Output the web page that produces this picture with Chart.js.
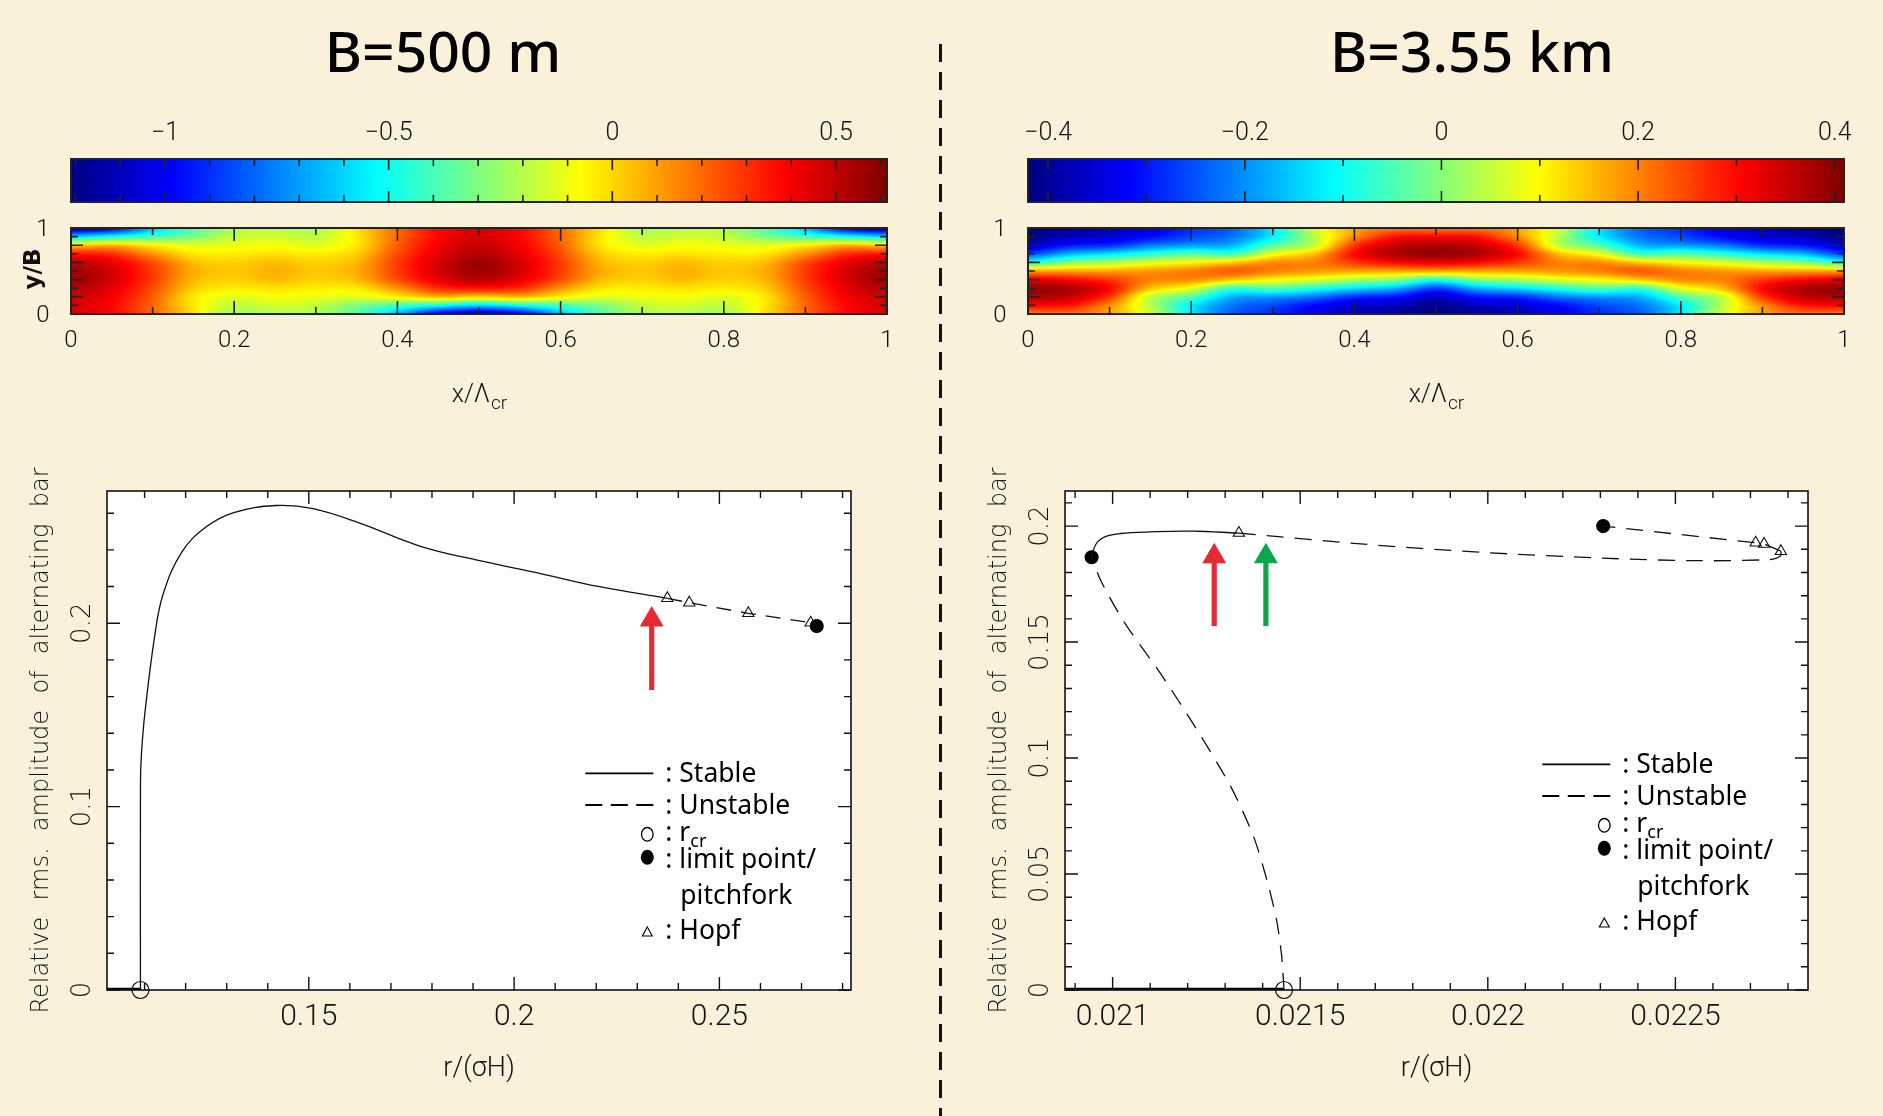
<!DOCTYPE html>
<html lang="en">
<head>
<meta charset="UTF-8">
<title>Alternating bars: B=500 m and B=3.55 km</title>
<script src="https://cdn.jsdelivr.net/npm/chart.js"></script>
<style>
  html, body { margin: 0; padding: 0; }
  body { width: 1883px; height: 1116px; background: #FAF1DB; position: relative; overflow: hidden; }
  canvas.layer { position: absolute; left: 0; top: 0; }
  .title { position: absolute; top: 22px; font: 500 57px/57px 'Noto Sans', 'Open Sans', sans-serif;
           color: #000; white-space: nowrap; transform: translateX(-50%); }
  .divider { position: absolute; left: 939px; top: 44px; width: 2.5px; height: 1072px;
             background: repeating-linear-gradient(to bottom, #111 0 18px, transparent 18px 28px); }
</style>
</head>
<body>
<div class="title" style="left:443px">B=500 m</div>
<div class="title" style="left:1472px">B=3.55 km</div>
<div class="divider"></div>
<canvas class="layer" id="cbLeft" width="1883" height="1116"></canvas>
<canvas class="layer" id="fieldLeftCv" width="1883" height="1116"></canvas>
<canvas class="layer" id="bifLeft" width="1883" height="1116"></canvas>
<canvas class="layer" id="cbRight" width="1883" height="1116"></canvas>
<canvas class="layer" id="fieldRightCv" width="1883" height="1116"></canvas>
<canvas class="layer" id="bifRight" width="1883" height="1116"></canvas>
<script>
const W = 1883, H = 1116;

// ---- colour bars ----
const cbLeftRange = [-1.21, 0.614];
const cbLeftTicks = [-1, -0.5, 0, 0.5];
const cbRightRange = [-0.4205, 0.4094];
const cbRightTicks = [-0.4, -0.2, 0, 0.2, 0.4];

// ---- bar patterns (rows: y/B = 1 at top ... 0 at bottom) ----
const fieldX = [0, 0.05, 0.1, 0.15, 0.2, 0.25, 0.3, 0.35, 0.4, 0.45, 0.5, 0.55, 0.6, 0.65, 0.7, 0.75, 0.8, 0.85, 0.9, 0.95, 1];
const fieldY = [1, 0.9, 0.8, 0.7, 0.6, 0.5, 0.4, 0.3, 0.2, 0.1, 0];
const fieldLeft = [
  [-1.10,-1.00,-0.65,-0.38,-0.22,-0.20,-0.22,-0.02,0.20,0.38,0.45,0.38,0.20,-0.02,-0.22,-0.20,-0.22,-0.38,-0.65,-1.00,-1.10],
  [-0.60,-0.50,-0.40,-0.30,-0.18,-0.15,-0.18,-0.03,0.20,0.38,0.46,0.38,0.20,-0.03,-0.18,-0.15,-0.18,-0.30,-0.40,-0.50,-0.60],
  [0.00,0.05,-0.05,-0.12,-0.10,-0.08,-0.12,-0.03,0.22,0.40,0.48,0.40,0.22,-0.03,-0.12,-0.08,-0.10,-0.12,-0.05,0.05,0.00],
  [0.35,0.30,0.12,-0.03,-0.04,-0.02,-0.04,0.02,0.25,0.43,0.52,0.43,0.25,0.02,-0.04,-0.02,-0.04,-0.03,0.12,0.30,0.35],
  [0.50,0.42,0.25,0.05,0.01,0.05,0.01,0.06,0.28,0.46,0.56,0.46,0.28,0.06,0.01,0.05,0.01,0.05,0.25,0.42,0.50],
  [0.56,0.46,0.28,0.08,0.03,0.07,0.03,0.08,0.28,0.46,0.56,0.46,0.28,0.08,0.03,0.07,0.03,0.08,0.28,0.46,0.56],
  [0.56,0.46,0.28,0.06,0.01,0.05,0.01,0.05,0.25,0.42,0.50,0.42,0.25,0.05,0.01,0.05,0.01,0.06,0.28,0.46,0.56],
  [0.52,0.43,0.25,0.02,-0.04,-0.02,-0.04,-0.03,0.12,0.30,0.35,0.30,0.12,-0.03,-0.04,-0.02,-0.04,0.02,0.25,0.43,0.52],
  [0.48,0.40,0.22,-0.03,-0.12,-0.08,-0.10,-0.12,-0.05,0.05,0.00,0.05,-0.05,-0.12,-0.10,-0.08,-0.12,-0.03,0.22,0.40,0.48],
  [0.46,0.38,0.20,-0.03,-0.18,-0.15,-0.18,-0.30,-0.40,-0.50,-0.60,-0.50,-0.40,-0.30,-0.18,-0.15,-0.18,-0.03,0.20,0.38,0.46],
  [0.45,0.38,0.20,-0.02,-0.22,-0.20,-0.22,-0.38,-0.65,-1.00,-1.10,-1.00,-0.65,-0.38,-0.22,-0.20,-0.22,-0.02,0.20,0.38,0.45]
];
const fieldRight = [
  [-0.42,-0.40,-0.37,-0.33,-0.28,-0.24,-0.12,0.06,0.17,0.21,0.21,0.21,0.17,0.06,-0.12,-0.24,-0.28,-0.33,-0.37,-0.40,-0.42],
  [-0.41,-0.37,-0.35,-0.31,-0.26,-0.22,-0.12,0.04,0.19,0.29,0.30,0.29,0.19,0.04,-0.12,-0.22,-0.26,-0.31,-0.35,-0.37,-0.41],
  [-0.36,-0.30,-0.28,-0.22,-0.19,-0.17,-0.04,0.05,0.26,0.35,0.37,0.35,0.26,0.05,-0.04,-0.17,-0.19,-0.22,-0.28,-0.30,-0.36],
  [-0.26,-0.17,-0.13,-0.08,-0.04,-0.06,0.08,0.15,0.30,0.37,0.39,0.37,0.30,0.15,0.08,-0.06,-0.04,-0.08,-0.13,-0.17,-0.26],
  [-0.08,0.00,0.03,0.07,0.10,0.14,0.19,0.20,0.26,0.30,0.32,0.30,0.26,0.20,0.19,0.14,0.10,0.07,0.03,0.00,-0.08],
  [0.17,0.17,0.17,0.18,0.20,0.23,0.20,0.18,0.17,0.17,0.17,0.17,0.17,0.18,0.20,0.23,0.20,0.18,0.17,0.17,0.17],
  [0.32,0.30,0.26,0.20,0.19,0.14,0.10,0.07,0.03,0.00,-0.08,0.00,0.03,0.07,0.10,0.14,0.19,0.20,0.26,0.30,0.32],
  [0.39,0.37,0.30,0.15,0.08,-0.06,-0.04,-0.08,-0.13,-0.17,-0.26,-0.17,-0.13,-0.08,-0.04,-0.06,0.08,0.15,0.30,0.37,0.39],
  [0.37,0.35,0.26,0.05,-0.04,-0.17,-0.19,-0.22,-0.28,-0.30,-0.36,-0.30,-0.28,-0.22,-0.19,-0.17,-0.04,0.05,0.26,0.35,0.37],
  [0.30,0.29,0.19,0.04,-0.12,-0.22,-0.26,-0.31,-0.35,-0.37,-0.41,-0.37,-0.35,-0.31,-0.26,-0.22,-0.12,0.04,0.19,0.29,0.30],
  [0.21,0.21,0.17,0.06,-0.12,-0.24,-0.28,-0.33,-0.37,-0.40,-0.42,-0.40,-0.37,-0.33,-0.28,-0.24,-0.12,0.06,0.17,0.21,0.21]
];
const fieldXTicks = [0, 0.2, 0.4, 0.6, 0.8, 1];
const fieldYTicks = [0, 1];

// ---- bifurcation diagram, B = 500 m ----
const leftRange = { x: [0.10085, 0.28205], y: [0, 0.2721] };
const leftTrivialX = [0.10085, 0.1090];
const leftTrivialY = [0, 0];
const leftStableX = [0.1090, 0.1090, 0.10925, 0.11012, 0.11246, 0.11451, 0.11903, 0.12487, 0.13173, 0.14196, 0.15072, 0.1624, 0.1770, 0.1916, 0.2062, 0.2208, 0.23731];
const leftStableY = [0, 0.1132, 0.1291, 0.1519, 0.1930, 0.2158, 0.2386, 0.2523, 0.2603, 0.2642, 0.2626, 0.2546, 0.2421, 0.2341, 0.2272, 0.2199, 0.21358];
const leftUnstableX = [0.23731, 0.24267, 0.25704, 0.27223, 0.2737];
const leftUnstableY = [0.21358, 0.21118, 0.2054, 0.20027, 0.19847];
const leftHopfX = [0.23731, 0.24267, 0.25704, 0.27223];
const leftHopfY = [0.21358, 0.21118, 0.2054, 0.20027];
const leftRcrX = [0.1090], leftRcrY = [0];
const leftLimitX = [0.2737], leftLimitY = [0.19847];
const leftArrowX = [0.23351], leftArrowTail = [0.16358], leftArrowTip = [0.20938];
const leftArrowColor = ['#E42A33'];
const leftXTicks = [0.15, 0.2, 0.25];
const leftYTicks = [0, 0.1, 0.2];

// ---- bifurcation diagram, B = 3.55 km ----
const rightRange = { x: [0.0208731, 0.0228534], y: [0, 0.21513] };
const rightTrivialX = [0.0208731, 0.0214568];
const rightTrivialY = [0, 0];
const rightLowerX = [0.0214568, 0.0214536, 0.0214501, 0.0214373, 0.0214133, 0.0213760, 0.0213150, 0.0212220, 0.0211280, 0.0210330, 0.0209700, 0.020944];
const rightLowerY = [0, 0.0083, 0.0155, 0.02994, 0.04618, 0.06602, 0.08767, 0.11292, 0.13637, 0.15802, 0.17600, 0.1866];
const rightStableX = [0.020944, 0.0209486, 0.0209598, 0.0209807, 0.0210207, 0.0211009, 0.0212131, 0.0213366];
const rightStableY = [0.1866, 0.1896, 0.1932, 0.1955, 0.1968, 0.1975, 0.1978, 0.1970];
const rightUpperX = [0.0213366, 0.0216618, 0.0219824, 0.022303, 0.0225434, 0.0227516, 0.0227806, 0.0227811];
const rightUpperY = [0.1970, 0.1923, 0.1887, 0.1862, 0.1851, 0.1856, 0.1872, 0.18918];
const rightReturnX = [0.0227811, 0.0227364, 0.022714, 0.0223075];
const rightReturnY = [0.18918, 0.1923, 0.1928, 0.2000];
const rightHopfX = [0.0213366, 0.022714, 0.0227364, 0.0227811];
const rightHopfY = [0.1970, 0.1928, 0.1923, 0.18918];
const rightRcrX = [0.0214568], rightRcrY = [0];
const rightLimitX = [0.020944, 0.0223075], rightLimitY = [0.1866, 0.2000];
const rightArrowX = [0.0212708, 0.0214085], rightArrowTail = [0.1569, 0.1569], rightArrowTip = [0.1928, 0.1928];
const rightArrowColor = ['#E42A33', '#0DA64A'];
const rightXTicks = [0.021, 0.0215, 0.022, 0.0225];
const rightYTicks = [0, 0.05, 0.1, 0.15, 0.2];

const yTitleWords = ['Relative', 'rms.', 'amplitude', 'of', 'alternating', 'bar'];

// ---- fonts ----
const NUM_FONT = "'Roboto', 'Liberation Sans', sans-serif";
const ROUND_FONT = "'DejaVu Sans', sans-serif";
const LEGEND_FONT = "'Noto Sans', 'Open Sans', sans-serif";

// ---------- helpers ----------
const pts = (xs, ys) => xs.map((v, i) => ({ x: v, y: ys[i] }));
const fmt = v => String(v).replace('-', '\u2212');

function jet(t) {
  t = Math.min(1, Math.max(0, t));
  const f = v => Math.round(255 * Math.min(1, Math.max(0, v)));
  return [f(1.5 - Math.abs(4 * t - 3)), f(1.5 - Math.abs(4 * t - 2)), f(1.5 - Math.abs(4 * t - 1))];
}

function cr(p0, p1, p2, p3, t) {
  return p1 + 0.5 * t * (p2 - p0 + t * (2 * p0 - 5 * p1 + 4 * p2 - p3 + t * (3 * (p1 - p2) + p3 - p0)));
}

// smooth (Catmull-Rom) reading of the gridded field
function sampleField(grid, xv, yv) {
  const nx = fieldX.length, ny = fieldY.length;
  const fx = Math.min(nx - 1, Math.max(0, (xv - fieldX[0]) / (fieldX[1] - fieldX[0])));
  const fy = Math.min(ny - 1, Math.max(0, (yv - fieldY[0]) / (fieldY[1] - fieldY[0])));
  const i = Math.min(nx - 2, Math.floor(fx)), j = Math.min(ny - 2, Math.floor(fy));
  const tx = fx - i, ty = fy - j;
  const rowAt = r => {
    const row = grid[Math.min(ny - 1, Math.max(0, r))];
    const c = k => row[Math.min(nx - 1, Math.max(0, k))];
    return cr(c(i - 1), c(i), c(i + 1), c(i + 2), tx);
  };
  return cr(rowAt(j - 1), rowAt(j), rowAt(j + 1), rowAt(j + 2), ty);
}

function eachTick(scale, step, every, fn) {
  const k0 = Math.ceil(scale.min / step - 1e-6), k1 = Math.floor(scale.max / step + 1e-6);
  for (let k = k0; k <= k1; k++) fn(k * step, k % every === 0);
}

// inward ticks on every side, plus the frame
function ticksFrame(o) {
  return {
    id: 'ticksFrame',
    afterDatasetsDraw(chart) {
      const { ctx, chartArea: a, scales: { x, y } } = chart;
      ctx.save();
      ctx.strokeStyle = o.color; ctx.lineWidth = o.tickWidth;
      ctx.beginPath();
      if (o.x) eachTick(x, o.x.step, o.x.every, (v, major) => {
        const p = x.getPixelForValue(v), L = major ? o.x.major : o.x.minor;
        ctx.moveTo(p, a.bottom); ctx.lineTo(p, a.bottom - L);
        ctx.moveTo(p, a.top); ctx.lineTo(p, a.top + L);
      });
      if (o.y) eachTick(y, o.y.step, o.y.every, (v, major) => {
        const p = y.getPixelForValue(v), L = major ? o.y.major : o.y.minor;
        ctx.moveTo(a.left, p); ctx.lineTo(a.left + L, p);
        ctx.moveTo(a.right, p); ctx.lineTo(a.right - L, p);
      });
      ctx.stroke();
      ctx.lineWidth = o.frameWidth;
      ctx.strokeRect(a.left, a.top, a.width, a.height);
      ctx.restore();
    }
  };
}

function textLayer(draw) {
  return {
    id: 'textLayer',
    afterDraw(chart) {
      const { ctx, chartArea, scales } = chart;
      ctx.save();
      ctx.fillStyle = '#111';
      draw(ctx, chartArea, scales.x, scales.y);
      ctx.restore();
    }
  };
}

function whiteArea() {
  return {
    id: 'whiteArea',
    beforeDraw(chart) {
      const { ctx, chartArea: a } = chart;
      ctx.save(); ctx.fillStyle = '#FFFFFF'; ctx.fillRect(a.left, a.top, a.width, a.height); ctx.restore();
    }
  };
}

function colourBar(vmin, vmax) {
  return {
    id: 'colourBar',
    beforeDatasetsDraw(chart) {
      const { ctx, chartArea: a, scales: { x } } = chart;
      for (let px = Math.floor(a.left); px < a.right; px++) {
        const c = jet((x.getValueForPixel(px + 0.5) - vmin) / (vmax - vmin));
        ctx.fillStyle = `rgb(${c})`;
        ctx.fillRect(px, a.top, 1, a.height);
      }
    }
  };
}

function fieldLayer(grid, vmin, vmax) {
  return {
    id: 'fieldLayer',
    beforeDatasetsDraw(chart) {
      const { ctx, chartArea: a, scales: { x, y } } = chart;
      const w = Math.round(a.width), h = Math.round(a.height);
      const img = ctx.createImageData(w, h);
      for (let j = 0; j < h; j++) {
        const yv = y.getValueForPixel(a.top + j + 0.5);
        for (let i = 0; i < w; i++) {
          const xv = x.getValueForPixel(a.left + i + 0.5);
          const c = jet((sampleField(grid, xv, yv) - vmin) / (vmax - vmin));
          const k = 4 * (j * w + i);
          img.data[k] = c[0]; img.data[k + 1] = c[1]; img.data[k + 2] = c[2]; img.data[k + 3] = 255;
        }
      }
      ctx.putImageData(img, Math.round(a.left), Math.round(a.top));
    }
  };
}

function arrowLayer(xs, tails, tips, colours) {
  return {
    id: 'arrowLayer',
    beforeDatasetsDraw(chart) {
      const { ctx, scales: { x, y } } = chart;
      ctx.save();
      xs.forEach((xv, i) => {
        const px = x.getPixelForValue(xv), pt = y.getPixelForValue(tails[i]), ph = y.getPixelForValue(tips[i]);
        const headLen = 20.5, headHalf = 12, shaft = 2.6;
        ctx.fillStyle = colours[i];
        ctx.fillRect(px - shaft, ph + headLen - 1, 2 * shaft, pt - ph - headLen + 1);
        ctx.beginPath();
        ctx.moveTo(px, ph); ctx.lineTo(px + headHalf, ph + headLen); ctx.lineTo(px - headHalf, ph + headLen);
        ctx.closePath(); ctx.fill();
      });
      ctx.restore();
    }
  };
}

function legendBox(shift) {
  return {
    id: 'legendBox',
    afterDatasetsDraw(chart) {
      const { ctx, chartArea: a } = chart;
      const R = a.right, T = a.top + shift;
      const xs = R - 265.7, xe = R - 197.7, xm = R - 203.7, xt = R - 185.7;
      ctx.save();
      ctx.strokeStyle = '#000'; ctx.fillStyle = '#000';
      ctx.lineWidth = 1.8;
      ctx.beginPath(); ctx.moveTo(xs, T + 282.3); ctx.lineTo(xe, T + 282.3); ctx.stroke();
      ctx.setLineDash([17, 8.5]);
      ctx.beginPath(); ctx.moveTo(xs, T + 314); ctx.lineTo(xe, T + 314); ctx.stroke();
      ctx.setLineDash([]);
      ctx.lineWidth = 1.3;
      ctx.beginPath(); ctx.ellipse(xm, T + 343.3, 5.8, 6.8, 0, 0, 2 * Math.PI); ctx.stroke();
      ctx.beginPath(); ctx.ellipse(xm, T + 366.3, 6.5, 7.5, 0, 0, 2 * Math.PI); ctx.fill();
      ctx.lineWidth = 1.1;
      ctx.beginPath();
      ctx.moveTo(xm, T + 436); ctx.lineTo(xm + 5, T + 445); ctx.lineTo(xm - 5, T + 445); ctx.closePath(); ctx.stroke();
      ctx.font = `26.5px ${LEGEND_FONT}`;
      ctx.textAlign = 'left'; ctx.textBaseline = 'alphabetic';
      ctx.fillText(': Stable', xt, T + 290.5);
      ctx.fillText(': Unstable', xt, T + 323);
      ctx.fillText(': r', xt, T + 349.5);
      const rw = ctx.measureText(': r').width;
      ctx.fillText(': limit point/', xt, T + 376.5);
      ctx.fillText('pitchfork', R - 170.7, T + 413);
      ctx.fillText(': Hopf', xt, T + 448);
      ctx.font = `18px ${LEGEND_FONT}`;
      ctx.fillText('cr', xt + rw, T + 356);
      ctx.restore();
    }
  };
}

function spreadWords(ctx, words, cx, cy, span, font) {
  ctx.save();
  ctx.font = font; ctx.translate(cx, cy); ctx.rotate(-Math.PI / 2);
  const widths = words.map(w => ctx.measureText(w).width);
  const total = widths.reduce((s, w) => s + w, 0);
  const gap = (span - total) / (words.length - 1);
  let pos = -span / 2;
  ctx.textAlign = 'left'; ctx.textBaseline = 'alphabetic';
  words.forEach((w, i) => { ctx.fillText(w, pos, 0); pos += widths[i] + gap; });
  ctx.restore();
}

function rotatedText(ctx, s, px, py, font) {
  ctx.save();
  ctx.font = font; ctx.translate(px, py); ctx.rotate(-Math.PI / 2);
  ctx.textAlign = 'center'; ctx.textBaseline = 'alphabetic';
  ctx.fillText(s, 0, 0);
  ctx.restore();
}

function makeChart(id, area, xr, yr, datasets, plugins) {
  return new Chart(document.getElementById(id), {
    type: 'scatter',
    data: { datasets },
    options: {
      responsive: false, animation: false, events: [],
      layout: { padding: { left: area[0], top: area[1], right: W - area[2], bottom: H - area[3] } },
      scales: {
        x: { type: 'linear', display: false, min: xr[0], max: xr[1] },
        y: { type: 'linear', display: false, min: yr[0], max: yr[1] }
      },
      plugins: { legend: { display: false }, tooltip: { enabled: false } }
    },
    plugins
  });
}

// ---------- colour bars ----------
function colourBarChart(id, area, range, labels) {
  makeChart(id, area, range, [0, 1], [], [
    colourBar(range[0], range[1]),
    ticksFrame({ color: '#222', tickWidth: 1.6, frameWidth: 2,
                 x: { step: 0.1, every: labels.length === 4 ? 5 : 2, major: 11, minor: 7 } }),
    textLayer((ctx, a, x) => {
      ctx.font = `300 25px ${NUM_FONT}`; ctx.textAlign = 'center'; ctx.textBaseline = 'alphabetic';
      labels.forEach(v => ctx.fillText(fmt(v), x.getPixelForValue(v), 139.7));
    })
  ]);
}
colourBarChart('cbLeft', [71, 159, 887, 202], cbLeftRange, cbLeftTicks);
colourBarChart('cbRight', [1028, 159, 1844, 202], cbRightRange, cbRightTicks);

// ---------- bar patterns ----------
function fieldChart(id, area, grid, range, withYLabel) {
  makeChart(id, area, [0, 1], [0, 1], [], [
    fieldLayer(grid, range[0], range[1]),
    ticksFrame({ color: '#222', tickWidth: 1.6, frameWidth: 2,
                 x: { step: 0.1, every: 2, major: 13, minor: 7 },
                 y: { step: 0.1, every: 2, major: 12, minor: 7 } }),
    textLayer((ctx, a, x, y) => {
      ctx.font = `300 24px ${NUM_FONT}`; ctx.textAlign = 'center'; ctx.textBaseline = 'alphabetic';
      fieldXTicks.forEach(v => ctx.fillText(String(v), x.getPixelForValue(v), 346.7));
      fieldYTicks.forEach(v => ctx.fillText(String(v), a.left - 28, y.getPixelForValue(v) + 8.4));
      // x/Λcr
      const main = 'x/\u039B', sub = 'cr';
      const fMain = `300 25px ${NUM_FONT}`, fSub = `300 19px ${NUM_FONT}`;
      ctx.font = fMain; const wm = ctx.measureText(main).width;
      ctx.font = fSub; const ws = ctx.measureText(sub).width;
      const x0 = (a.left + a.right) / 2 - (wm + ws) / 2;
      ctx.textAlign = 'left';
      ctx.font = fMain; ctx.fillText(main, x0, 402);
      ctx.font = fSub; ctx.fillText(sub, x0 + wm + 1, 409);
      if (withYLabel) rotatedText(ctx, 'y/B', 40, 269, `bold 23px ${ROUND_FONT}`);
    })
  ]);
}
fieldChart('fieldLeftCv', [71, 228, 887, 314], fieldLeft, cbLeftRange, true);
fieldChart('fieldRightCv', [1028, 228, 1844, 314], fieldRight, cbRightRange, false);

// ---------- bifurcation diagrams ----------
const lineSet = (xs, ys, extra) => Object.assign({
  data: pts(xs, ys), showLine: true, borderColor: '#111', borderWidth: 1.3,
  pointRadius: 0, tension: 0.4
}, extra);
const markerSet = (xs, ys, extra) => Object.assign({
  data: pts(xs, ys), showLine: false, borderColor: '#111', borderWidth: 1.1,
  backgroundColor: 'rgba(0,0,0,0)', clip: false
}, extra);
const DASH = [15, 10];

function bifText(xTicks, yTicks) {
  return textLayer((ctx, a, x, y) => {
    ctx.font = `300 30px ${NUM_FONT}`; ctx.textAlign = 'center'; ctx.textBaseline = 'alphabetic';
    xTicks.forEach(v => ctx.fillText(String(v), x.getPixelForValue(v), 1025));
    yTicks.forEach(v => rotatedText(ctx, String(v), a.left - 17, y.getPixelForValue(v), `200 26px ${ROUND_FONT}`));
    ctx.font = `300 27px ${NUM_FONT}`; ctx.textAlign = 'center';
    ctx.fillText('r/(\u03C3H)', (a.left + a.right) / 2, 1076);
    spreadWords(ctx, yTitleWords, a.left - 59.5, (a.top + a.bottom) / 2, 546, `200 24px ${ROUND_FONT}`);
  });
}

makeChart('bifLeft', [107, 491, 851, 990], leftRange.x, leftRange.y, [
  lineSet(leftTrivialX, leftTrivialY, { borderWidth: 4.5, tension: 0, borderColor: '#000' }),
  lineSet(leftStableX, leftStableY),
  lineSet(leftUnstableX, leftUnstableY, { borderDash: DASH, tension: 0 }),
  markerSet(leftHopfX, leftHopfY, { pointStyle: 'triangle', pointRadius: 6.5 }),
  markerSet(leftRcrX, leftRcrY, { pointStyle: 'circle', pointRadius: 8.5, borderWidth: 1.2 }),
  markerSet(leftLimitX, leftLimitY, { pointStyle: 'circle', pointRadius: 6.5, backgroundColor: '#000', borderColor: '#000' })
], [
  whiteArea(),
  arrowLayer(leftArrowX, leftArrowTail, leftArrowTip, leftArrowColor),
  ticksFrame({ color: '#111', tickWidth: 1.4, frameWidth: 1.6,
               x: { step: 0.01, every: 5, major: 13, minor: 7 },
               y: { step: 0.02, every: 5, major: 13, minor: 7 } }),
  legendBox(0),
  bifText(leftXTicks, leftYTicks)
]);

makeChart('bifRight', [1065, 491, 1808, 990], rightRange.x, rightRange.y, [
  lineSet(rightTrivialX, rightTrivialY, { borderWidth: 4.5, tension: 0, borderColor: '#000' }),
  lineSet(rightLowerX, rightLowerY, { borderDash: [17, 11], tension: 0.25 }),
  lineSet(rightStableX, rightStableY),
  lineSet(rightUpperX, rightUpperY, { borderDash: [17, 11], tension: 0.3 }),
  lineSet(rightReturnX, rightReturnY, { borderDash: [17, 11], tension: 0 }),
  markerSet(rightHopfX, rightHopfY, { pointStyle: 'triangle', pointRadius: 6.5 }),
  markerSet(rightRcrX, rightRcrY, { pointStyle: 'circle', pointRadius: 8.5, borderWidth: 1.2 }),
  markerSet(rightLimitX, rightLimitY, { pointStyle: 'circle', pointRadius: 6.5, backgroundColor: '#000', borderColor: '#000' })
], [
  whiteArea(),
  arrowLayer(rightArrowX, rightArrowTail, rightArrowTip, rightArrowColor),
  ticksFrame({ color: '#111', tickWidth: 1.4, frameWidth: 1.6,
               x: { step: 0.0001, every: 5, major: 13, minor: 7 },
               y: { step: 0.01, every: 5, major: 13, minor: 7 } }),
  legendBox(-9),
  bifText(rightXTicks, rightYTicks)
]);
</script>
</body>
</html>
